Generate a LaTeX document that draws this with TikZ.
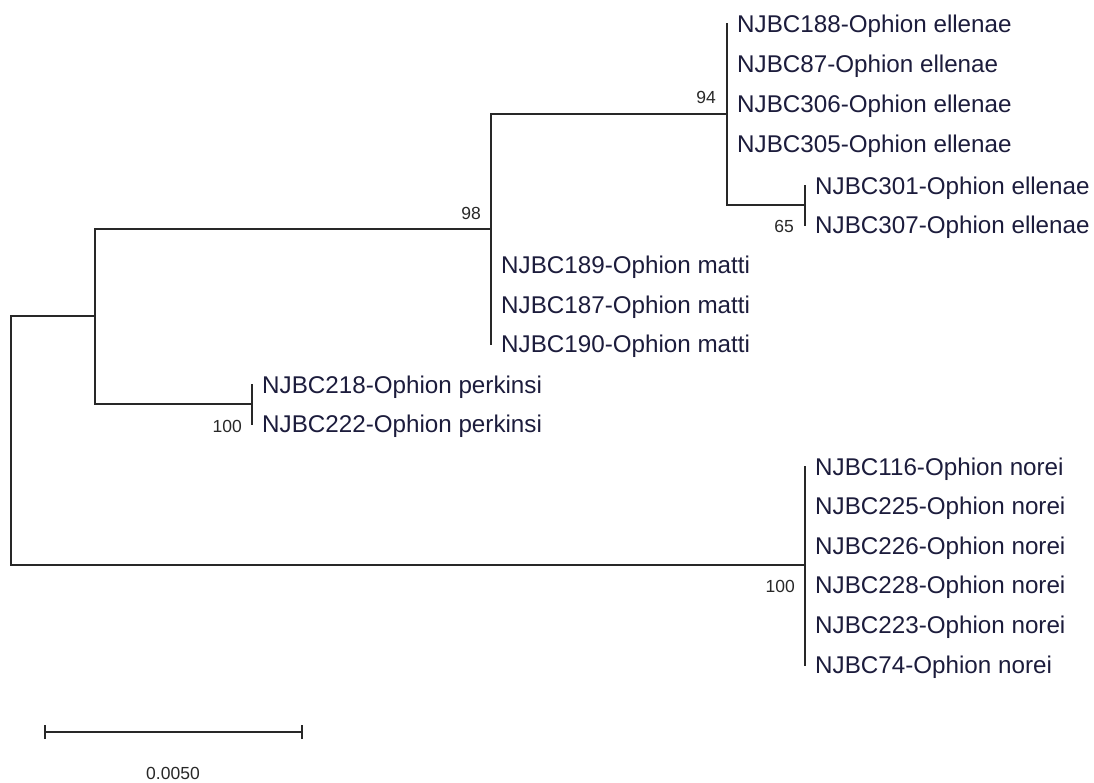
\documentclass[tikz,border=0pt]{standalone}
\usepackage{fontspec}
\setmainfont{Liberation Sans}
\definecolor{leafcol}{RGB}{28,28,60}
\definecolor{linecol}{RGB}{40,40,40}
\begin{document}
\begin{tikzpicture}[x=1pt,y=-1pt,
  br/.style={draw=linecol,line width=1.5pt,line cap=rect},
  leaf/.style={anchor=base west,inner sep=0pt,text=leafcol,font=\fontsize{24.2}{28}\selectfont},
  boot/.style={inner sep=0pt,text=linecol,font=\fontsize{17.5}{20}\selectfont}]
\useasboundingbox (0,0) rectangle (1094,782);
% internal nodes
\coordinate (root) at (11,316);
\coordinate (rootB) at (11,565);
\coordinate (A) at (95,316);
\coordinate (AT) at (95,229);
\coordinate (AB) at (95,404);
\coordinate (B) at (491,229);
\coordinate (BT) at (491,114);
\coordinate (BB) at (491,344);
\coordinate (P) at (252,404);
\coordinate (PT) at (252,385);
\coordinate (PB) at (252,424);
\coordinate (C) at (727,114);
\coordinate (CT) at (727,24);
\coordinate (CB) at (727,205);
\coordinate (D) at (805,205);
\coordinate (DT) at (805,186);
\coordinate (DB) at (805,225);
\coordinate (N) at (805,565);
\coordinate (NT) at (805,467);
\coordinate (NB) at (805,665);
% branches
\draw[br] (root) -- (A);
\draw[br] (rootB) -- (N);
\draw[br] (root) -- (rootB);
\draw[br] (AT) -- (AB);
\draw[br] (AT) -- (B);
\draw[br] (AB) -- (P);
\draw[br] (BT) -- (BB);
\draw[br] (BT) -- (C);
\draw[br] (PT) -- (PB);
\draw[br] (CT) -- (CB);
\draw[br] (CB) -- (D);
\draw[br] (DT) -- (DB);
\draw[br] (NT) -- (NB);
% leaves
\node[leaf] (l1) at (737,32.7) {NJBC188-Ophion ellenae};
\node[leaf] (l2) at (737,72.7) {NJBC87-Ophion ellenae};
\node[leaf] (l3) at (737,112.7) {NJBC306-Ophion ellenae};
\node[leaf] (l4) at (737,152.7) {NJBC305-Ophion ellenae};
\node[leaf] (l5) at (815,194.7) {NJBC301-Ophion ellenae};
\node[leaf] (l6) at (815,233.7) {NJBC307-Ophion ellenae};
\node[leaf] (l7) at (501,273.7) {NJBC189-Ophion matti};
\node[leaf] (l8) at (501,313.7) {NJBC187-Ophion matti};
\node[leaf] (l9) at (501,352.7) {NJBC190-Ophion matti};
\node[leaf] (l10) at (262,393.7) {NJBC218-Ophion perkinsi};
\node[leaf] (l11) at (262,432.7) {NJBC222-Ophion perkinsi};
\node[leaf] (l12) at (815,475.7) {NJBC116-Ophion norei};
\node[leaf] (l13) at (815,514.7) {NJBC225-Ophion norei};
\node[leaf] (l14) at (815,554.7) {NJBC226-Ophion norei};
\node[leaf] (l15) at (815,593.7) {NJBC228-Ophion norei};
\node[leaf] (l16) at (815,633.7) {NJBC223-Ophion norei};
\node[leaf] (l17) at (815,673.7) {NJBC74-Ophion norei};
% bootstrap values
\node[boot,anchor=east] (b98) at (481,213) {98};
\node[boot,anchor=east] (b94) at (716,97) {94};
\node[boot,anchor=east] (b65) at (794,226) {65};
\node[boot,anchor=east] (b100p) at (242,426) {100};
\node[boot,anchor=east] (b100n) at (795,586) {100};
% scale bar
\coordinate (s1) at (45,732);
\coordinate (s2) at (302,732);
\draw[br,line cap=butt] (s1) -- (s2);
\draw[br,line cap=butt] ([yshift=-7]s1) -- ([yshift=7]s1);
\draw[br,line cap=butt] ([yshift=-7]s2) -- ([yshift=7]s2);
\node[boot] (sl) at (173,773) {0.0050};
\end{tikzpicture}
\end{document}
